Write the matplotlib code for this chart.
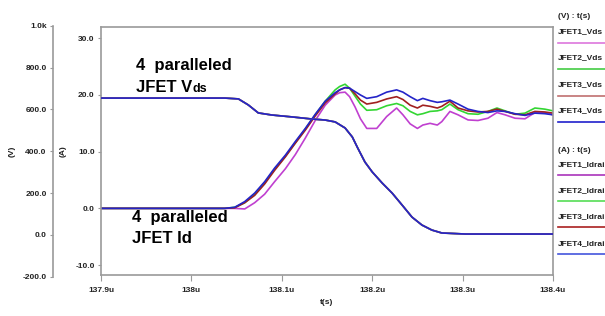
import matplotlib.pyplot as plt
from matplotlib.lines import Line2D

# drain currents, time in us
t_id = [137.900, 138.037, 138.048, 138.059, 138.070, 138.081, 138.092, 138.104,
        138.115, 138.126, 138.137, 138.148, 138.159, 138.164, 138.170, 138.175,
        138.181, 138.187, 138.194, 138.205, 138.216, 138.227, 138.234, 138.242,
        138.250, 138.256, 138.264, 138.272, 138.277, 138.286, 138.295, 138.306,
        138.317, 138.328, 138.338, 138.347, 138.358, 138.369, 138.380, 138.391,
        138.400]
id_jfet1 = [0.0, 0.0, 0.0, -0.1, 1.0, 2.5, 4.7, 7.0, 9.5, 12.4, 15.5, 18.2, 20.0, 20.4,
            20.5, 19.7, 17.9, 15.8, 14.1, 14.1, 16.2, 17.7, 16.5, 14.9, 14.1, 14.7,
            15.0, 14.7, 15.3, 17.1, 16.5, 15.6, 15.5, 15.9, 16.9, 16.5, 15.9, 15.8,
            16.9, 16.9, 16.5]
id_jfet2 = [0.0, 0.0, 0.2, 1.0, 2.5, 4.5, 6.9, 9.2, 11.6, 14.0, 16.5, 18.9, 20.9, 21.5,
            21.9, 21.2, 19.8, 18.4, 17.3, 17.4, 18.1, 18.5, 18.1, 17.1, 16.5, 16.7,
            17.1, 17.2, 17.4, 18.4, 17.4, 16.7, 16.6, 17.1, 17.7, 17.2, 16.6, 16.8,
            17.7, 17.5, 17.2]
id_jfet3 = [0.0, 0.0, 0.1, 1.0, 2.3, 4.3, 6.7, 9.1, 11.5, 13.8, 16.3, 18.6, 20.2, 20.9,
            21.3, 21.2, 20.2, 19.1, 18.4, 18.7, 19.3, 19.7, 19.2, 18.2, 17.7, 18.2,
            18.0, 17.7, 18.0, 18.9, 17.7, 17.2, 17.0, 17.1, 17.5, 17.1, 16.6, 16.5,
            17.1, 17.0, 16.8]
id_jfet4 = [0.0, 0.0, 0.2, 1.2, 2.7, 4.7, 7.1, 9.4, 11.8, 14.1, 16.6, 18.9, 20.4, 20.9,
            21.3, 21.2, 20.6, 20.0, 19.4, 19.7, 20.5, 20.9, 20.5, 19.7, 19.0, 19.4,
            19.0, 18.7, 18.8, 19.1, 18.4, 17.5, 17.1, 16.9, 17.2, 17.1, 16.7, 16.4,
            16.8, 16.7, 16.5]

# drain-source voltage (all four overlap)
t_vds = [137.900, 138.037, 138.052, 138.063, 138.074, 138.089, 138.111, 138.133,
         138.148, 138.159, 138.170, 138.178, 138.184, 138.192, 138.200, 138.211,
         138.222, 138.233, 138.244, 138.255, 138.266, 138.277, 138.303, 138.400]
vds = [654, 654, 650, 621, 583, 573, 564, 554, 549, 540, 511, 468, 415, 348, 301, 248,
       200, 143, 85, 47, 23, 9, 4, 4]

x_ticks = [137.9, 138.0, 138.1, 138.2, 138.3, 138.4]
x_tick_labels = ["137.9u", "138u", "138.1u", "138.2u", "138.3u", "138.4u"]
a_ticks = [-10, 0, 10, 20, 30]
v_ticks = [-200, 0, 200, 400, 600, 800, 1000]
v_tick_labels = ["-200.0", "0.0", "200.0", "400.0", "600.0", "800.0", "1.0k"]

names = ["JFET1", "JFET2", "JFET3", "JFET4"]
id_colors = ["#c040d0", "#33d633", "#a02020", "#2424c8"]
vds_colors = ["#d070dd", "#44cc44", "#b86060", "#2424c8"]
leg_vds_colors = ["#dd77dd", "#44cc44", "#c07070", "#2020cc"]
leg_id_colors = ["#aa33bb", "#55dd55", "#aa2020", "#4455dd"]

plt.rcParams['font.family'] = ['Liberation Sans', 'DejaVu Sans']
plt.rcParams['font.weight'] = 'bold'

W, H = 605, 316
fig = plt.figure(figsize=(6.05, 3.16), dpi=100)
grey = "#9a9a9a"
txt = "#222222"

ax = fig.add_axes([101 / W, 1 - 275 / H, 452 / W, 248 / H])
axv = fig.add_axes([101 / W, 1 - 276.7 / H, 452 / W, 251 / H], sharex=ax)

for y, c in zip([id_jfet1, id_jfet2, id_jfet3, id_jfet4], id_colors):
    ax.plot(t_id, y, color=c, lw=1.2)
for c in vds_colors:
    axv.plot(t_vds, vds, color=c, lw=1.2)

ax.set_xlim(137.9, 138.4)
ax.set_ylim(-11.75, 31.99)
axv.set_ylim(-200, 1000)

for s in ax.spines.values():
    s.set_color(grey)
    s.set_linewidth(1.2)
ax.set_xticks(x_ticks)
ax.set_xticklabels(x_tick_labels)
ax.set_yticks(a_ticks)
ax.set_yticklabels([f"{v:.1f}" for v in a_ticks])
ax.tick_params(axis='x', length=4, pad=5, color=grey, labelsize=6, labelcolor=txt)
ax.tick_params(axis='y', length=2.5, pad=2, color=grey, labelsize=6, labelcolor=txt)

axv.patch.set_visible(False)
for k in ['top', 'right', 'bottom']:
    axv.spines[k].set_visible(False)
axv.spines['left'].set_position(('outward', 34.56))
axv.spines['left'].set_color(grey)
axv.spines['left'].set_linewidth(1.2)
axv.set_yticks(v_ticks)
axv.set_yticklabels(v_tick_labels)
axv.tick_params(axis='y', length=2.5, pad=2, color=grey, labelsize=6, labelcolor=txt)
axv.tick_params(axis='x', bottom=False, labelbottom=False)

fig.text(327 / W, 1 - 303 / H, "t(s)", ha='center', va='center', fontsize=6, color=txt)
fig.text(12 / W, 1 - 151 / H, "(V)", rotation=90, ha='center', va='center', fontsize=6, color=txt)
fig.text(63 / W, 1 - 151 / H, "(A)", rotation=90, ha='center', va='center', fontsize=6, color=txt)

# annotations
fig.text(136 / W, 1 - 70 / H, "4  paralleled", fontsize=12, va='baseline')
t1 = fig.text(136 / W, 1 - 92.3 / H, "JFET V", fontsize=12, va='baseline')
ax.annotate("ds", xy=(1, 0), xycoords=t1, fontsize=9, va='bottom', ha='left',
            annotation_clip=False)
fig.text(132 / W, 1 - 221.7 / H, "4  paralleled", fontsize=12, va='baseline')
fig.text(132 / W, 1 - 243.3 / H, "JFET Id", fontsize=12, va='baseline')

# legend at right (cut off by the figure edge, as in the original)
fig.text(558 / W, 1 - 16 / H, "(V) : t(s)", fontsize=6, va='center', color=txt)
fig.text(558 / W, 1 - 150 / H, "(A) : t(s)", fontsize=6, va='center', color=txt)
v_txt_y = [32, 58, 85, 111]
v_line_y = [43, 69, 96, 122]
a_txt_y = [165, 191, 217, 244]
a_line_y = [175, 201, 227, 254]
for i, n in enumerate(names):
    fig.text(558 / W, 1 - v_txt_y[i] / H, n + "_Vds", fontsize=6, va='center', color=txt)
    fig.add_artist(Line2D([558 / W, 1], [1 - v_line_y[i] / H] * 2,
                          transform=fig.transFigure, color=leg_vds_colors[i], lw=1.2))
    fig.text(558 / W, 1 - a_txt_y[i] / H, n + "_Idrain", fontsize=6, va='center', color=txt)
    fig.add_artist(Line2D([558 / W, 1], [1 - a_line_y[i] / H] * 2,
                          transform=fig.transFigure, color=leg_id_colors[i], lw=1.2))

fig.savefig("out.png", dpi=100)
